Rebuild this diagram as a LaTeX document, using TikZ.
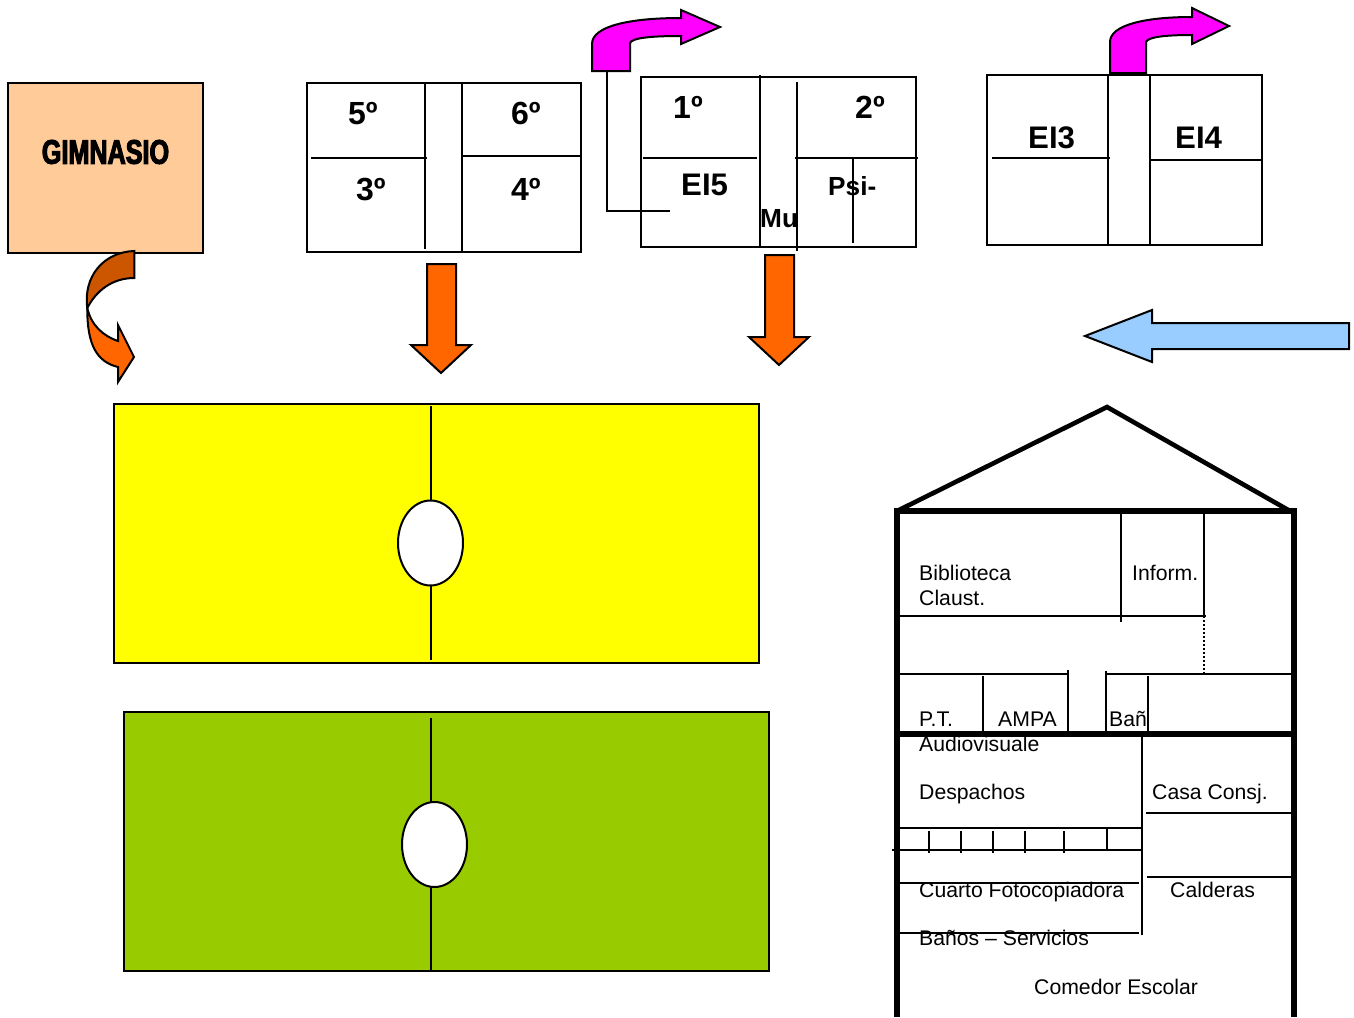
\documentclass[tikz,border=0pt]{standalone}
\usepackage{fontspec}
\setmainfont{Liberation Sans}
\newfontfamily\impactfont[FakeBold=3.2,FakeStretch=0.74]{Liberation Sans Bold}
\begin{document}
\begin{tikzpicture}[x=1pt,y=-1pt,line join=miter,
  ln/.style={line width=2pt,draw=black},
  heavy/.style={line width=5.7pt,draw=black},
  outlined/.style={line width=2pt,draw=black},
  rmtext/.style={anchor=base west,inner sep=0pt,font=\fontsize{21.2}{25}\selectfont},
  numtext/.style={anchor=base west,inner sep=0pt,font=\bfseries\fontsize{32}{36}\selectfont},
  eitext/.style={anchor=base west,inner sep=0pt,font=\bfseries\fontsize{31.2}{36}\selectfont},
  smalltext/.style={anchor=base west,inner sep=0pt,font=\bfseries\fontsize{26.2}{30}\selectfont}]
\useasboundingbox (0,0) rectangle (1354,1017);
\definecolor{peach}{HTML}{FFCC99}
\definecolor{orangeA}{HTML}{FF6600}
\definecolor{orangeD}{HTML}{CC5500}
\definecolor{pinkA}{HTML}{FF00FF}
\definecolor{blueA}{HTML}{99CCFF}
\definecolor{greenA}{HTML}{99CC00}
\definecolor{yellowA}{HTML}{FFFF00}

% Gimnasio
\node[outlined,fill=peach,minimum width=195pt,minimum height=170pt,inner sep=0pt,outer sep=0pt,anchor=north west] (gym) at (8,83) {};
\node[inner sep=0pt,font=\impactfont\fontsize{34}{38}\selectfont] (gymtext) at (105.5,152) {GIMNASIO};
% curved arrow
\path[outlined,fill=orangeA] (87.3,308) .. controls (87,345) and (97,362) .. (118,367) -- (118,382) -- (134,357) -- (118,325) -- (118,341) .. controls (103,336) and (91,325) .. (87.3,308) -- cycle;
\path[outlined,fill=orangeD] (134.3,251) -- (134.3,278) .. controls (112,278) and (96,291) .. (87.3,308) .. controls (83,276) and (104,252) .. (134.3,251) -- cycle;

% box 5-6-3-4
\draw[ln] (307,83) rectangle (581,252);
\draw[ln] (424.5,83) -- (424.5,249) (462,83) -- (462,252) (311,158) -- (427,158) (461,156) -- (581,156);
\node[numtext] (t5) at (348,124) {5º};
\node[numtext] (t6) at (511,124) {6º};
\node[numtext] (t3) at (356,200) {3º};
\node[numtext] (t4) at (511,200) {4º};

% down arrows
\path[outlined,fill=orangeA] (427,264) -- (456,264) -- (456,345) -- (471,345) -- (441,373) -- (411,345) -- (427,345) -- cycle;
\path[outlined,fill=orangeA] (765,255) -- (794,255) -- (794,337) -- (809,337) -- (779,365) -- (749,337) -- (765,337) -- cycle;

% box 1-2
\node[numtext] (t1) at (673,118) {1º};
\node[numtext] (t2) at (855,118) {2º};
\node[eitext] (ei5) at (681,195) {EI5};
\node[smalltext] (psi) at (828,195) {Psi-};
\node[smalltext] (mu) at (760,227) {Mu};
\draw[ln] (641,77) rectangle (916,247);
\draw[ln] (759.5,75) -- (759.5,248) (797,82) -- (797,251) (643,158) -- (757,158) (795,158) -- (918,158) (853,158) -- (853,243);
\draw[ln] (607,71) -- (607,211) -- (670,211);
% pink arrows
\path[outlined,fill=pinkA] (592,71) -- (630,71) -- (630,43) .. controls (632,38) and (650,36) .. (681,36) -- (681,44) -- (720,27) -- (681,10) -- (681,18) .. controls (630,18) and (592,26) .. (592,44) -- cycle;
\path[outlined,fill=pinkA] (1110,73) -- (1146,73) -- (1146,42) .. controls (1148,37) and (1165,35) .. (1192,35) -- (1192,44) -- (1229,26) -- (1192,8) -- (1192,17) .. controls (1145,17) and (1110,25) .. (1110,42) -- cycle;

% box EI3 EI4
\node[eitext] (ei3) at (1028,148.5) {EI3};
\node[eitext] (ei4) at (1175,148.5) {EI4};
\draw[ln] (987,75) rectangle (1262,245);
\draw[ln] (1108,75) -- (1108,246) (1150,75) -- (1150,246) (992,158) -- (1110,158) (1150,160) -- (1262,160);

% blue arrow
\path[outlined,fill=blueA] (1349,323) -- (1152,323) -- (1152,310) -- (1085,336) -- (1152,362) -- (1152,349) -- (1349,349) -- cycle;

% yellow panel
\path[outlined,fill=yellowA] (114,404) rectangle (759,663);
\draw[ln] (431,406) -- (431,660);
\path[outlined,fill=white] (430.5,543) ellipse [x radius=32.5pt,y radius=42.5pt];
% green panel
\path[outlined,fill=greenA] (124,712) rectangle (769,971);
\draw[ln] (431,718) -- (431,971);
\path[outlined,fill=white] (434.5,844.5) ellipse [x radius=32.5pt,y radius=42.5pt];

% house texts
\node[rmtext] (bib) at (919,580) {Biblioteca};
\node[rmtext] (cla) at (919,605) {Claust.};
\node[rmtext] (inf) at (1132,580) {Inform.};
\node[rmtext] (pt) at (919,726) {P.T.};
\node[rmtext] (ampa) at (998,726) {AMPA};
\node[rmtext] (ban) at (1109,726) {Bañ};
\node[rmtext] (aud) at (919,751) {Audiovisuale};
\node[rmtext] (des) at (919,799) {Despachos};
\node[rmtext] (cas) at (1152,799) {Casa Consj.};
\node[rmtext] (cua) at (919,897) {Cuarto Fotocopiadora};
\node[rmtext] (cal) at (1170,897) {Calderas};
\node[rmtext] (bano) at (919,945) {Baños – Servicios};
\node[rmtext] (com) at (1034,994) {Comedor Escolar};

% house
\draw[line width=4.6pt] (897,511) -- (1107,407) -- (1290,511);
\draw[heavy] (897,1017) -- (897,511) -- (1294,511) -- (1294,1017);
\draw[heavy] (900,734) -- (1297,734);
\draw[ln] (1121,511) -- (1121,622) (1204,511) -- (1204,616) (899,616) -- (1206,616);
\draw[line width=2pt,dotted] (1204,616) -- (1204,674);
\draw[ln] (899,674) -- (1068,674) (1106,674) -- (1292,674);
\draw[ln] (983,676) -- (983,734) (1068,670) -- (1068,734) (1106,671) -- (1106,734) (1148,676) -- (1148,734);
\draw[ln] (1142,736) -- (1142,935);
\draw[ln] (1146,813) -- (1292,813) (1147,877) -- (1292,877);
\draw[ln] (899,828) -- (1143,828) (892,850) -- (1142,850);
\draw[ln] (929,831) -- (929,853) (961,831) -- (961,853) (993,831) -- (993,853) (1025,831) -- (1025,853) (1064,831) -- (1064,853) (1107,828) -- (1107,850);
\draw[ln] (899,882.5) -- (1139,882.5) (899,933) -- (1139,933);
\end{tikzpicture}
\end{document}
